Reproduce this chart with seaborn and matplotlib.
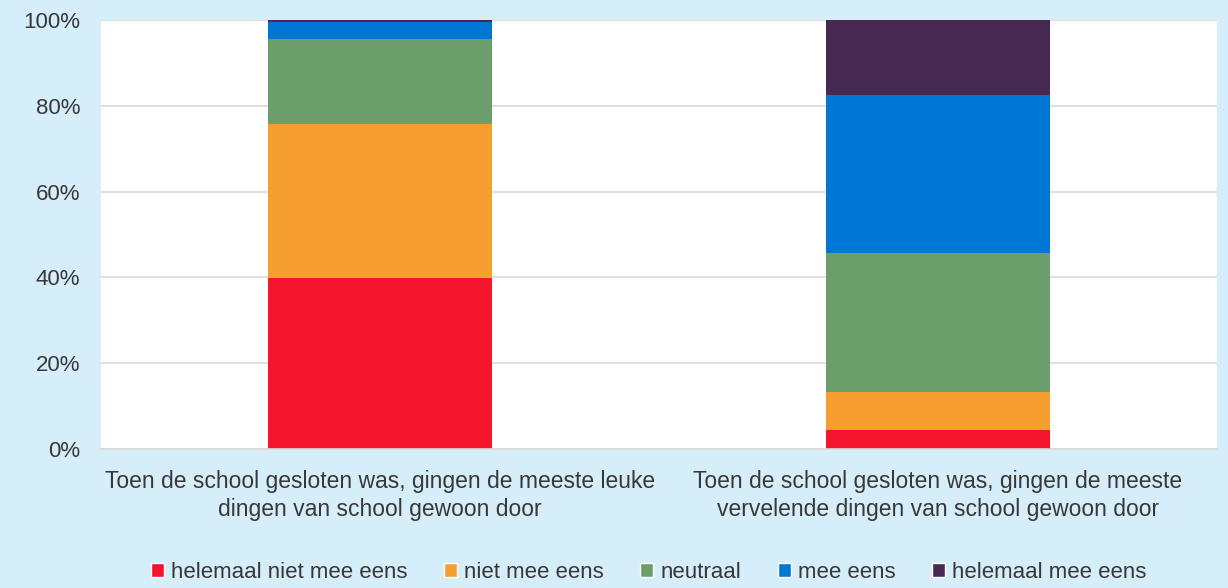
import pandas as pd
import matplotlib.pyplot as plt
import seaborn as sns
from matplotlib.patches import Patch
from matplotlib.ticker import PercentFormatter

# === DATA ===
vragen = [
    "Toen de school gesloten was, gingen de meeste leuke\ndingen van school gewoon door",
    "Toen de school gesloten was, gingen de meeste\nvervelende dingen van school gewoon door",
]
antwoorden = ["helemaal niet mee eens", "niet mee eens", "neutraal", "mee eens", "helemaal mee eens"]
helemaal_niet = [39.8, 4.4]
niet_mee_eens = [36.0, 8.8]
neutraal = [19.7, 32.6]
mee_eens = [4.0, 36.8]
helemaal_mee_eens = [0.5, 17.4]
kleuren = ["#F5142D", "#F79E30", "#6B9E6B", "#0077D4", "#472852"]

df = pd.DataFrame({
    "vraag": vragen,
    antwoorden[0]: helemaal_niet,
    antwoorden[1]: niet_mee_eens,
    antwoorden[2]: neutraal,
    antwoorden[3]: mee_eens,
    antwoorden[4]: helemaal_mee_eens,
})
cum = df[antwoorden].cumsum(axis=1)
cum["vraag"] = df["vraag"]

bg = "#D6EDFA"
tekst = "#383838"
sns.set_theme(style="white")
plt.rcParams['font.family'] = ['Liberation Sans', 'DejaVu Sans']

fig = plt.figure(figsize=(12.28, 5.88), dpi=100, facecolor=bg)
ax = fig.add_axes([0.0822, 0.2364, 0.9088, 0.7296])
ax.set_facecolor("white")

# stacked bars: draw cumulative totals from top level down
for a, c in reversed(list(zip(antwoorden, kleuren))):
    sns.barplot(data=cum, x="vraag", y=a, color=c, width=0.4, linewidth=0,
                saturation=1, ax=ax, order=vragen)

ax.set_ylim(0, 100)
ax.set_xlim(-0.5, 1.5)
ax.set_yticks(range(0, 101, 20))
ax.yaxis.set_major_formatter(PercentFormatter(decimals=0))
ax.grid(axis="y", color="#D9D9D9", linewidth=1.2)
ax.set_axisbelow(True)
for s in ["top", "right", "left"]:
    ax.spines[s].set_visible(False)
ax.spines["bottom"].set_color("#D9D9D9")
ax.spines["bottom"].set_linewidth(1.2)
ax.tick_params(axis="both", length=0, labelsize=16, colors=tekst)
ax.tick_params(axis="y", pad=15)
ax.tick_params(axis="x", pad=15, labelsize=16.5)
for lbl in ax.get_xticklabels():
    lbl.set_linespacing(1.3)
ax.set_xlabel("")
ax.set_ylabel("")

handles = [Patch(facecolor=c, label=a) for a, c in zip(antwoorden, kleuren)]
fig.legend(handles=handles, loc="center", bbox_to_anchor=(0.528, 0.027), ncol=5,
           frameon=False, fontsize=16, handlelength=0.6, handleheight=0.6,
           handletextpad=0.3, columnspacing=1.65, labelcolor=tekst)

fig.savefig("out.png", dpi=100, facecolor=bg)
